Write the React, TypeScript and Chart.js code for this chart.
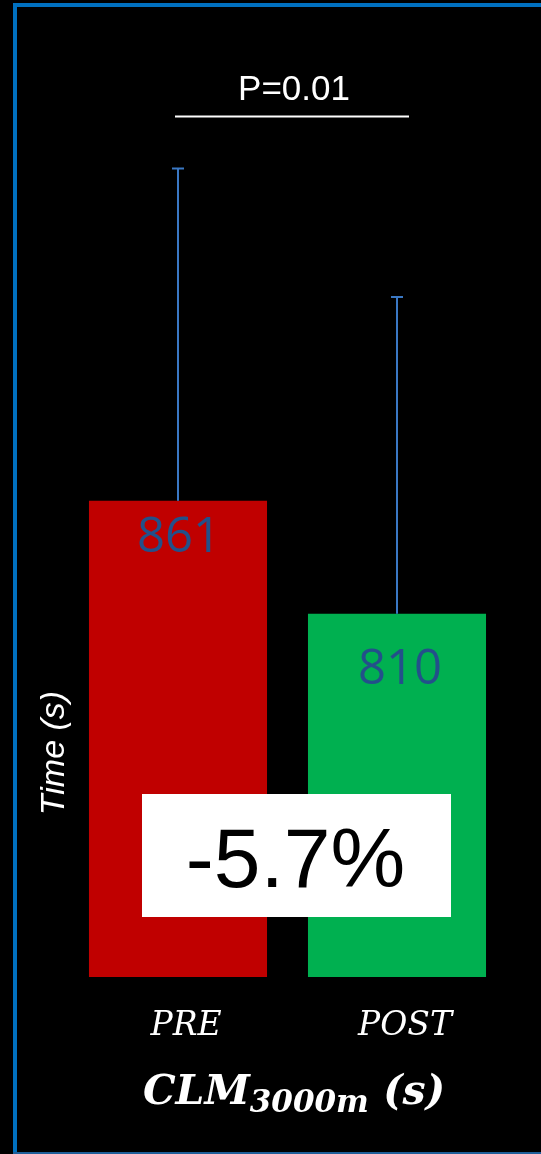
import React, { useEffect, useRef } from "react";
import { Chart, registerables } from "chart.js";

Chart.register(...registerables);

const categories = ["PRE", "POST"];
const means = [861, 810];
const sds = [150, 143];
const valueLabels = ["861", "810"];
const barColors = ["#C00000", "#00B050"];
const pValueText = "P=0.01";
const changeText = "-5.7%";
const yAxisTitle = "Time (s)";
const titleMain = "CLM";
const titleSub = "3000m";
const titleUnit = " (s)";

// styling offsets (px) for annotation placement
const labelDy = [37, 56];
const labelDx = [1, 3];

const W = 541;
const H = 1154;

export default function App() {
  const ref = useRef<HTMLCanvasElement | null>(null);

  useEffect(() => {
    document.body.style.margin = "0";
    document.body.style.background = "#000";
    const canvas = ref.current;
    if (!canvas) return;

    const overlay = {
      id: "overlay",
      beforeDraw(chart: any) {
        const ctx = chart.ctx;
        ctx.save();
        ctx.fillStyle = "#000";
        ctx.fillRect(0, 0, W, H);
        ctx.fillStyle = "#0070C0";
        ctx.fillRect(13, 3, W - 13, 4);
        ctx.fillRect(13, 3, 4, H - 3);
        ctx.fillStyle = "#1F5F99";
        ctx.fillRect(13, H - 2, W - 13, 2);
        ctx.restore();
      },
      afterDatasetsDraw(chart: any) {
        const ctx = chart.ctx;
        const meta = chart.getDatasetMeta(0);
        const ys = chart.scales.y;
        ctx.save();
        // error bars
        meta.data.forEach((bar: any, i: number) => {
          const x = bar.x;
          const yTop = ys.getPixelForValue(means[i] + sds[i]);
          ctx.strokeStyle = "#3A78C4";
          ctx.lineWidth = 2;
          ctx.beginPath();
          ctx.moveTo(x, bar.y);
          ctx.lineTo(x, yTop);
          ctx.moveTo(x - 6, yTop);
          ctx.lineTo(x + 6, yTop);
          ctx.stroke();
        });
        // value labels
        ctx.fillStyle = "#23508A";
        ctx.font = '49px "Open Sans"';
        ctx.textAlign = "center";
        ctx.textBaseline = "middle";
        meta.data.forEach((bar: any, i: number) => {
          ctx.fillText(valueLabels[i], bar.x + labelDx[i], bar.y + labelDy[i]);
        });
        // change box
        const x0 = meta.data[0].x;
        const x1 = meta.data[1].x;
        const bx = x0 - 36;
        const bw = x1 + 54 - bx;
        ctx.fillStyle = "#fff";
        ctx.fillRect(bx, 794, bw, 123);
        ctx.fillStyle = "#000";
        ctx.font = '84px "Liberation Sans"';
        ctx.textBaseline = "alphabetic";
        ctx.fillText(changeText, bx + bw / 2 - 1, 887);
        // p value
        ctx.fillStyle = "#fff";
        ctx.font = '35px "Liberation Sans"';
        ctx.fillText(pValueText, 294, 100);
        ctx.strokeStyle = "#fff";
        ctx.lineWidth = 2;
        ctx.beginPath();
        ctx.moveTo(175, 116.5);
        ctx.lineTo(409, 116.5);
        ctx.stroke();
        // y axis title
        ctx.save();
        ctx.translate(55, 753);
        ctx.rotate(-Math.PI / 2);
        ctx.font = 'italic 34px "Liberation Sans"';
        ctx.textBaseline = "middle";
        ctx.fillText(yAxisTitle, 0, 0);
        ctx.restore();
        // category labels
        ctx.font = 'italic 33px "DejaVu Serif"';
        ctx.textBaseline = "alphabetic";
        meta.data.forEach((bar: any, i: number) => {
          ctx.fillText(categories[i], bar.x + 8, 1035);
        });
        // title with subscript
        const fMain = 'bold italic 41px "DejaVu Serif"';
        const fSub = 'bold italic 31px "DejaVu Serif"';
        ctx.font = fMain;
        const w1 = ctx.measureText(titleMain).width;
        const w3 = ctx.measureText(titleUnit).width;
        ctx.font = fSub;
        const w2 = ctx.measureText(titleSub).width;
        const total = w1 + w2 + w3;
        let tx = 294 - total / 2;
        ctx.textAlign = "left";
        ctx.font = fMain;
        ctx.fillText(titleMain, tx, 1104);
        tx += w1;
        ctx.font = fSub;
        ctx.fillText(titleSub, tx, 1112);
        tx += w2;
        ctx.font = fMain;
        ctx.fillText(titleUnit, tx, 1104);
        ctx.restore();
      },
    };

    const chart = new Chart(canvas, {
      type: "bar",
      data: {
        labels: categories,
        datasets: [
          {
            data: means,
            backgroundColor: barColors,
            borderWidth: 0,
            categoryPercentage: 1,
            barPercentage: 0.813,
          },
        ],
      },
      options: {
        responsive: false,
        animation: false,
        layout: { padding: { top: 82, bottom: 177, left: 68.5, right: 34.5 } },
        scales: {
          x: { display: false },
          y: { display: false, min: 646, max: 1050 },
        },
        plugins: { legend: { display: false }, tooltip: { enabled: false } },
      },
      plugins: [overlay],
    });
    return () => chart.destroy();
  }, []);

  return (
    <div style={{ width: W, height: H, background: "#000" }}>
      <canvas ref={ref} width={W} height={H} style={{ display: "block", width: W, height: H }} />
    </div>
  );
}
